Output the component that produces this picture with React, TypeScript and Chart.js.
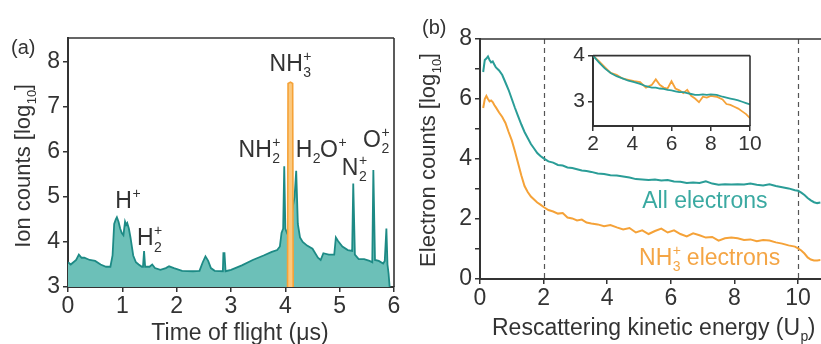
import React, { useEffect, useRef } from "react";
import { Chart, registerables } from "chart.js";

Chart.register(...registerables);

const FONT = '"Liberation Sans", Arial, Helvetica, sans-serif';
const TEXT = "#333333";
const TEAL_LINE = "#1d8a85";
const TEAL_FILL = "#6cc0b8";
const TEAL_TEXT = "#3aa9a1";
const ORANGE = "#f5a238";
const ORANGE_FILL = "#fbc97f";

// ---------- Panel (a): time-of-flight spectrum ----------
const tofTime = [
  0, 0.05, 0.1, 0.15, 0.2, 0.25, 0.3, 0.4, 0.5, 0.6, 0.7, 0.78, 0.82, 0.85, 0.88, 0.9, 0.93, 0.96, 0.99,
  1.02, 1.05, 1.07, 1.09, 1.12, 1.15, 1.2, 1.25, 1.3, 1.36, 1.38, 1.4, 1.42, 1.5, 1.55, 1.6, 1.7, 1.8,
  1.86, 1.95, 2.1, 2.3, 2.42, 2.48, 2.53, 2.58, 2.63, 2.7, 2.85, 2.86, 2.88, 2.9, 3.0, 3.2, 3.4, 3.6,
  3.75, 3.85, 3.9, 3.93, 3.96, 3.98, 4.0, 4.03, 4.06, 4.1, 4.14, 4.17, 4.2, 4.23, 4.27, 4.32, 4.4, 4.5,
  4.6, 4.65, 4.7, 4.8, 4.9, 4.93, 4.97, 5.05, 5.15, 5.23, 5.25, 5.28, 5.35, 5.45, 5.55, 5.6, 5.62, 5.65,
  5.72, 5.8, 5.83, 5.86, 5.88, 5.9, 5.92,
];
const tofCounts = [
  3.55, 3.5, 3.55, 3.6, 3.72, 3.65, 3.65, 3.6, 3.58, 3.5, 3.45, 3.45, 3.7, 4.4, 4.5, 4.55, 4.45, 4.3, 4.2,
  4.15, 4.45, 4.38, 4.42, 4.3, 4.1, 3.7, 3.55, 3.5, 3.45, 3.45, 3.8, 3.45, 3.45, 3.5, 3.42, 3.38, 3.42,
  3.46, 3.42, 3.36, 3.35, 3.36, 3.55, 3.68, 3.58, 3.42, 3.36, 3.35, 3.75, 3.75, 3.35, 3.38, 3.48, 3.6, 3.7,
  3.78, 3.82, 3.9, 4.2, 4.3, 5.68, 4.3, 4.2, 4.25, 4.4, 4.8, 5.0, 5.58, 4.4, 4.1, 4.0, 3.92, 3.85,
  3.65, 3.6, 3.75, 3.72, 3.72, 4.1, 4.02, 3.9, 3.82, 3.8, 5.3, 3.72, 3.62, 3.62, 3.58, 3.55, 5.6, 3.6,
  3.58, 3.52, 3.58, 4.3, 3.5, 3.3, 3.0,
];
const nh3Time = [4.04, 4.05, 4.095, 4.135, 4.145];
const nh3Counts = [3, 7.52, 7.55, 7.52, 3];
const tofXTicks = [0, 1, 2, 3, 4, 5, 6];
const tofYTicks = [3, 4, 5, 6, 7, 8];

type Seg = { t: string; sub?: string; sup?: string };
const peakLabels: Seg[][] = [
  [{ t: "H", sup: "+" }],
  [{ t: "H", sub: "2", sup: "+" }],
  [{ t: "NH", sub: "3", sup: "+" }],
  [{ t: "NH", sub: "2", sup: "+" }],
  [{ t: "H", sub: "2" }, { t: "O", sup: "+" }],
  [{ t: "N", sub: "2", sup: "+" }],
  [{ t: "O", sub: "2", sup: "+" }],
];
const peakLabelTime = [0.87, 1.27, 3.71, 3.14, 4.19, 5.04, 5.43];
const peakLabelCounts = [4.76, 3.93, 7.8, 5.89, 5.89, 5.49, 6.11];

// ---------- Panel (b): electron spectra ----------
const energy = [
  0.1, 0.15, 0.2, 0.25, 0.3, 0.35, 0.4, 0.45, 0.5, 0.6, 0.7, 0.8, 0.9, 1.0, 1.1, 1.2, 1.3, 1.4, 1.5, 1.6,
  1.7, 1.8, 1.9, 2.0, 2.15, 2.3, 2.45, 2.6, 2.75, 2.9, 3.05, 3.2, 3.35, 3.5, 3.7, 3.9, 4.1, 4.3, 4.5, 4.7,
  4.9, 5.1, 5.3, 5.5, 5.7, 5.9, 6.1, 6.3, 6.5, 6.7, 6.9, 7.1, 7.3, 7.5, 7.7, 7.9, 8.1, 8.3, 8.5, 8.7, 8.9,
  9.1, 9.3, 9.5, 9.7, 9.9, 10.0, 10.1, 10.2, 10.3, 10.4, 10.5, 10.6, 10.7,
];
const allElectrons = [
  6.9, 7.3, 7.35, 7.42, 7.3, 7.22, 7.25, 7.15, 7.05, 6.95, 6.8, 6.55, 6.3, 6.0, 5.7, 5.42, 5.15, 4.9, 4.7, 4.5,
  4.35, 4.2, 4.1, 4.02, 3.92, 3.88, 3.8, 3.78, 3.72, 3.7, 3.66, 3.62, 3.6, 3.57, 3.52, 3.5, 3.46, 3.45, 3.42, 3.38,
  3.33, 3.32, 3.3, 3.32, 3.28, 3.3, 3.25, 3.24, 3.2, 3.22, 3.2, 3.26, 3.18, 3.14, 3.16, 3.15, 3.16, 3.15, 3.18, 3.14, 3.12,
  3.16, 3.1, 3.06, 3.02, 2.96, 2.94, 2.88, 2.8, 2.7, 2.62, 2.56, 2.53, 2.55,
];
const nh3Electrons = [
  5.7, 6.0, 6.1, 6.0, 5.92, 5.95, 5.9, 5.8, 5.72, 5.55, 5.4, 5.2, 4.9, 4.62, 4.25, 3.85, 3.45, 3.1, 2.9, 2.75,
  2.65, 2.55, 2.48, 2.4, 2.3, 2.25, 2.18, 2.2, 2.05, 2.02, 1.95, 1.98, 1.88, 1.85, 1.82, 1.76, 1.8, 1.72, 1.65, 1.7,
  1.55, 1.62, 1.5, 1.6, 1.68, 1.55, 1.62, 1.5, 1.42, 1.52, 1.46, 1.38, 1.4, 1.28, 1.36, 1.38, 1.36, 1.3, 1.32, 1.26, 1.3,
  1.28, 1.22, 1.18, 1.12, 1.08, 1.02, 0.95, 0.85, 0.72, 0.65, 0.62, 0.62, 0.63,
];
const dashedEnergies = [2, 10];
const energyXTicks = [0, 2, 4, 6, 8, 10];
const electronYTicks = [0, 1, 2, 3, 4, 5, 6, 7, 8];

// inset (zoom of 2–10 U_p, normalised)
const insetEnergy = [
  2, 2.3, 2.6, 2.9, 3.2, 3.5, 3.8, 4.1, 4.4, 4.7, 5.0, 5.2, 5.4, 5.6, 5.8, 6.0, 6.2, 6.4, 6.6, 6.8, 7.0, 7.2,
  7.4, 7.6, 7.8, 8.0, 8.3, 8.6, 8.8, 9.0, 9.2, 9.4, 9.6, 9.8, 10,
];
const insetAll = [
  4.0, 3.85, 3.72, 3.62, 3.55, 3.5, 3.45, 3.42, 3.38, 3.33, 3.3, 3.3, 3.28, 3.27, 3.25, 3.24, 3.22, 3.2, 3.2, 3.18, 3.16, 3.14,
  3.14, 3.15, 3.14, 3.15, 3.14, 3.1, 3.08, 3.06, 3.04, 3.02, 2.99, 2.96, 2.93,
];
const insetNh3 = [
  4.0, 3.88, 3.75, 3.62, 3.58, 3.5, 3.47, 3.44, 3.42, 3.3, 3.36, 3.48, 3.36, 3.3, 3.28, 3.44, 3.28, 3.24, 3.18, 3.25, 3.12, 3.06,
  2.98, 3.1, 3.08, 3.12, 3.1, 3.04, 2.94, 2.92, 2.88, 2.84, 2.78, 2.72, 2.63,
];
const insetXTicks = [2, 4, 6, 8, 10];
const insetYTicks = [3, 4];

// ---------- helpers ----------
function segWidth(ctx: CanvasRenderingContext2D, segs: Seg[], size: number) {
  const small = Math.round(size * 0.6);
  let w = 0;
  for (const s of segs) {
    ctx.font = `${size}px ${FONT}`;
    w += ctx.measureText(s.t).width;
    ctx.font = `${small}px ${FONT}`;
    const a = s.sub ? ctx.measureText(s.sub).width : 0;
    const b = s.sup ? ctx.measureText(s.sup).width : 0;
    w += Math.max(a, b);
  }
  return w;
}

function drawSegs(
  ctx: CanvasRenderingContext2D,
  segs: Seg[],
  x: number,
  y: number,
  size: number,
  color: string,
  align: "left" | "center" = "left"
) {
  const small = Math.round(size * 0.6);
  let cx = align === "center" ? x - segWidth(ctx, segs, size) / 2 : x;
  ctx.save();
  ctx.fillStyle = color;
  ctx.textAlign = "left";
  ctx.textBaseline = "alphabetic";
  for (const s of segs) {
    ctx.font = `${size}px ${FONT}`;
    ctx.fillText(s.t, cx, y);
    cx += ctx.measureText(s.t).width;
    ctx.font = `${small}px ${FONT}`;
    let adv = 0;
    if (s.sub) {
      ctx.fillText(s.sub, cx + 0.5, y + size * 0.28);
      adv = Math.max(adv, ctx.measureText(s.sub).width);
    }
    if (s.sup) {
      ctx.fillText(s.sup, cx + 0.5, y - size * 0.42);
      adv = Math.max(adv, ctx.measureText(s.sup).width);
    }
    cx += adv;
  }
  ctx.restore();
}

function tickList(values: number[]) {
  return (scale: any) => {
    scale.ticks = values.map((v) => ({ value: v }));
  };
}

function axis(
  min: number,
  max: number,
  ticks: number[],
  fitSize: number,
  isX: boolean,
  fontSize: number,
  labelEvery = 1
) {
  return {
    type: "linear" as const,
    min,
    max,
    afterBuildTicks: tickList(ticks),
    afterFit: (s: any) => {
      if (isX) s.height = fitSize;
      else s.width = fitSize;
    },
    grid: {
      drawOnChartArea: false,
      drawTicks: true,
      tickLength: 5,
      color: TEXT,
      lineWidth: 1.5,
    },
    border: { display: true, color: TEXT, width: 2 },
    ticks: {
      font: { family: FONT, size: fontSize },
      color: TEXT,
      padding: isX ? 1 : 3,
      maxRotation: 0,
      autoSkip: false,
      callback: (v: any) => (Math.round(v) % labelEvery === 0 ? String(v) : ""),
    },
  };
}

function useChart(config: () => any) {
  const ref = useRef<HTMLCanvasElement | null>(null);
  useEffect(() => {
    if (!ref.current) return;
    const chart = new Chart(ref.current, config());
    return () => chart.destroy();
  }, []);
  return ref;
}

const framePlugin = (sides: { top?: boolean; right?: boolean }) => ({
  id: "frame",
  afterDatasetsDraw(chart: any) {
    const { ctx, chartArea: a } = chart;
    ctx.save();
    ctx.strokeStyle = TEXT;
    ctx.lineWidth = 1.6;
    ctx.beginPath();
    if (sides.top) {
      ctx.moveTo(a.left, a.top);
      ctx.lineTo(a.right, a.top);
    }
    if (sides.right) {
      ctx.moveTo(a.right, a.top);
      ctx.lineTo(a.right, a.bottom);
    }
    ctx.stroke();
    ctx.restore();
  },
});

// ---------- Panel A ----------
function PanelA() {
  const ref = useChart(() => ({
    type: "line",
    data: {
      datasets: [
        {
          data: nh3Time.map((x, i) => ({ x, y: nh3Counts[i] })),
          borderColor: ORANGE,
          backgroundColor: ORANGE_FILL,
          fill: "start",
          borderWidth: 1.6,
          pointRadius: 0,
          tension: 0,
        },
        {
          data: tofTime.map((x, i) => ({ x, y: tofCounts[i] })),
          borderColor: TEAL_LINE,
          backgroundColor: TEAL_FILL,
          fill: "start",
          borderWidth: 1.8,
          pointRadius: 0,
          tension: 0,
        },
      ],
    },
    options: {
      animation: false,
      responsive: false,
      events: [],
      layout: { padding: { top: 38, right: 16, left: 0, bottom: 0 } },
      plugins: { legend: { display: false }, tooltip: { enabled: false } },
      scales: {
        x: axis(0, 6, tofXTicks, 57, true, 23),
        y: axis(3, 8.53, tofYTicks, 68, false, 23),
      },
    },
    plugins: [
      framePlugin({ top: true, right: true }),
      {
        id: "textA",
        afterDraw(chart: any) {
          const { ctx } = chart;
          const xs = chart.scales.x;
          const ys = chart.scales.y;
          peakLabels.forEach((segs, i) => {
            drawSegs(ctx, segs, xs.getPixelForValue(peakLabelTime[i]), ys.getPixelForValue(peakLabelCounts[i]), 23, TEXT);
          });
          drawSegs(ctx, [{ t: "(a)" }], 11, 54, 20, TEXT);
          drawSegs(ctx, [{ t: "Time of flight (μs)" }], 240, 340, 23, TEXT, "center");
          ctx.save();
          ctx.translate(30, 166);
          ctx.rotate(-Math.PI / 2);
          drawSegs(ctx, [{ t: "Ion counts [log", sub: "10" }, { t: "]" }], 0, 0, 22, TEXT, "center");
          ctx.restore();
        },
      },
    ],
  }));
  return <canvas ref={ref} width={410} height={344} style={{ position: "absolute", left: 0, top: 0, width: 410, height: 344 }} />;
}

// ---------- Panel B ----------
function PanelB() {
  const ref = useChart(() => ({
    type: "line",
    data: {
      datasets: [
        {
          data: energy.map((x, i) => ({ x, y: allElectrons[i] })),
          borderColor: "#2a9d97",
          borderWidth: 2,
          pointRadius: 0,
          tension: 0,
          fill: false,
        },
        {
          data: energy.map((x, i) => ({ x, y: nh3Electrons[i] })),
          borderColor: ORANGE,
          borderWidth: 2,
          pointRadius: 0,
          tension: 0,
          fill: false,
        },
      ],
    },
    options: {
      animation: false,
      responsive: false,
      events: [],
      layout: { padding: { top: 39, right: 0, left: 0, bottom: 0 } },
      plugins: { legend: { display: false }, tooltip: { enabled: false } },
      scales: {
        x: axis(0, 10.72, energyXTicks, 65, true, 23),
        y: axis(0, 8, electronYTicks, 70, false, 23, 2),
      },
    },
    plugins: [
      framePlugin({ top: true }),
      {
        id: "dashes",
        beforeDatasetsDraw(chart: any) {
          const { ctx, chartArea: a } = chart;
          const xs = chart.scales.x;
          ctx.save();
          ctx.strokeStyle = "#555";
          ctx.lineWidth = 1.2;
          ctx.setLineDash([5, 4]);
          dashedEnergies.forEach((e) => {
            const px = Math.round(xs.getPixelForValue(e)) + 0.5;
            ctx.beginPath();
            ctx.moveTo(px, a.top);
            ctx.lineTo(px, a.bottom);
            ctx.stroke();
          });
          ctx.restore();
        },
      },
      {
        id: "textB",
        afterDraw(chart: any) {
          const { ctx } = chart;
          const xs = chart.scales.x;
          const ys = chart.scales.y;
          drawSegs(ctx, [{ t: "All electrons" }], xs.getPixelForValue(5.1), ys.getPixelForValue(2.37), 23, TEAL_TEXT);
          drawSegs(ctx, [{ t: "NH", sub: "3", sup: "+" }, { t: " electrons" }], xs.getPixelForValue(5.0), ys.getPixelForValue(0.47), 23, "#f4a545");
          drawSegs(ctx, [{ t: "(b)" }], 12, 34, 20, TEXT);
          drawSegs(ctx, [{ t: "Rescattering kinetic energy (U", sub: "p" }, { t: ")" }], 82, 335, 23, TEXT);
          ctx.save();
          ctx.translate(25, 160);
          ctx.rotate(-Math.PI / 2);
          drawSegs(ctx, [{ t: "Electron counts [log", sub: "10" }, { t: "]" }], 0, 0, 22, TEXT, "center");
          ctx.restore();
        },
      },
    ],
  }));
  return <canvas ref={ref} width={411} height={344} style={{ position: "absolute", left: 410, top: 0, width: 411, height: 344 }} />;
}

// ---------- Inset ----------
function Inset() {
  const ref = useChart(() => ({
    type: "line",
    data: {
      datasets: [
        {
          data: insetEnergy.map((x, i) => ({ x, y: insetAll[i] })),
          borderColor: "#2a9d97",
          borderWidth: 1.8,
          pointRadius: 0,
          tension: 0,
          fill: false,
        },
        {
          data: insetEnergy.map((x, i) => ({ x, y: insetNh3[i] })),
          borderColor: ORANGE,
          borderWidth: 1.8,
          pointRadius: 0,
          tension: 0,
          fill: false,
        },
      ],
    },
    options: {
      animation: false,
      responsive: false,
      events: [],
      layout: { padding: { top: 12, right: 15, left: 0, bottom: 0 } },
      plugins: { legend: { display: false }, tooltip: { enabled: false } },
      scales: {
        x: axis(2, 10, insetXTicks, 34, true, 21),
        y: axis(2.46, 4, insetYTicks, 33, false, 21),
      },
    },
    plugins: [
      {
        id: "bg",
        beforeDraw(chart: any) {
          const { ctx, chartArea: a } = chart;
          ctx.save();
          ctx.fillStyle = "#ffffff";
          ctx.fillRect(a.left, a.top, a.right - a.left, a.bottom - a.top);
          ctx.restore();
        },
      },
      framePlugin({ top: true, right: true }),
    ],
  }));
  return <canvas ref={ref} width={205} height={120} style={{ position: "absolute", left: 560, top: 40, width: 205, height: 120 }} />;
}

export default function App() {
  useEffect(() => {
    document.body.style.margin = "0";
  }, []);
  return (
    <div style={{ position: "relative", width: 821, height: 344, background: "#ffffff", overflow: "hidden" }}>
      <PanelA />
      <PanelB />
      <Inset />
    </div>
  );
}
